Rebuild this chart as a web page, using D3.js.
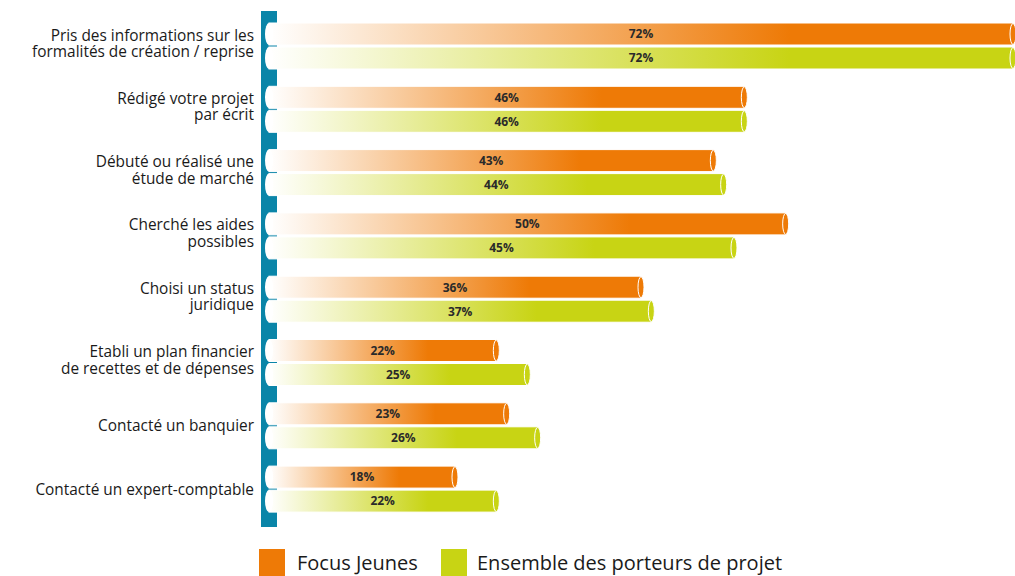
<!DOCTYPE html>
<html><head><meta charset="utf-8">
<script src="https://cdn.jsdelivr.net/npm/d3@7"></script>
<style>body{margin:0;background:#fff}svg{display:block}</style>
</head><body><svg id="c" width="1015" height="576"></svg>
<script>
const categories = [
  ["Pris des informations sur les","formalités de création / reprise"],
  ["Rédigé votre projet","par écrit"],
  ["Débuté ou réalisé une","étude de marché"],
  ["Cherché les aides","possibles"],
  ["Choisi un status","juridique"],
  ["Etabli un plan financier","de recettes et de dépenses"],
  ["Contacté un banquier"],
  ["Contacté un expert-comptable"]
];
const seriesNames = ["Focus Jeunes","Ensemble des porteurs de projet"];
const focusJeunes = [72,46,43,50,36,22,23,18];
const ensemble = [72,46,44,45,37,25,26,22];
const colors = ["#EE7A06","#C8D414"];

const svg = d3.select("#c");
const font = "'Open Sans', sans-serif";
const x = d3.scaleLinear().domain([0,72]).range([269,1013]);
const y = d3.scaleBand().domain(d3.range(categories.length)).range([23,23+8*63.3]).padding(0);
const barH = 22, gap = 2;

const defs = svg.append("defs");
colors.forEach((c,i)=>{
  const g = defs.append("linearGradient").attr("id","g"+i).attr("x1","0").attr("x2","1").attr("y1","0").attr("y2","0");
  g.append("stop").attr("offset","0").attr("stop-color","#fff");
  g.append("stop").attr("offset","0.7").attr("stop-color",c);
  g.append("stop").attr("offset","1").attr("stop-color",c);
});

// teal axis bar
svg.append("rect").attr("x",261).attr("y",11).attr("width",16).attr("height",516).attr("fill","#0A85A8");

const series = [focusJeunes, ensemble];
series.forEach((vals,s)=>{
  const grp = svg.append("g");
  vals.forEach((v,i)=>{
    const top = y(i) + s*(barH+gap);
    const x0 = x(0), x1 = x(v);
    grp.append("rect").attr("x",x0).attr("y",top).attr("width",x1-x0).attr("height",barH)
      .attr("fill",`url(#g${s})`).attr("stroke","#fff").attr("stroke-width",1);
    grp.append("ellipse").attr("cx",x0).attr("cy",top+barH/2).attr("rx",4).attr("ry",barH/2)
      .attr("fill","#fff");
    grp.append("ellipse").attr("cx",x1).attr("cy",top+barH/2).attr("rx",3).attr("ry",barH/2-0.5)
      .attr("fill",colors[s]).attr("stroke","#fff").attr("stroke-width",1);
    grp.append("text").attr("x",(x0+x1)/2).attr("y",top+barH/2+4.3).attr("text-anchor","middle")
      .attr("font-family",font).attr("font-weight","bold").attr("font-size",12).attr("fill","#2a2a2a")
      .text(v+"%");
  });
});

// category labels
categories.forEach((lines,i)=>{
  const cy = y(i) + barH + gap/2;
  const t = svg.append("text").attr("text-anchor","end").attr("font-family",font)
    .attr("font-size",15.4).attr("fill","#1a1a1a");
  const n = lines.length;
  lines.forEach((l,k)=>{
    const yy = n===1 ? cy + 5.5 : cy + 2.75 + (k-0.5)*16.5;
    t.append("tspan").attr("x",254).attr("y",yy).text(l);
  });
});

// legend
const leg = [{x:259,tx:297},{x:441,tx:477}];
seriesNames.forEach((n,i)=>{
  svg.append("rect").attr("x",leg[i].x).attr("y",549).attr("width",26).attr("height",27).attr("fill",colors[i]);
  svg.append("text").attr("x",leg[i].tx).attr("y",570).attr("font-family",font).attr("font-size",20)
    .attr("fill","#1a1a1a").text(n);
});
</script></body></html>
